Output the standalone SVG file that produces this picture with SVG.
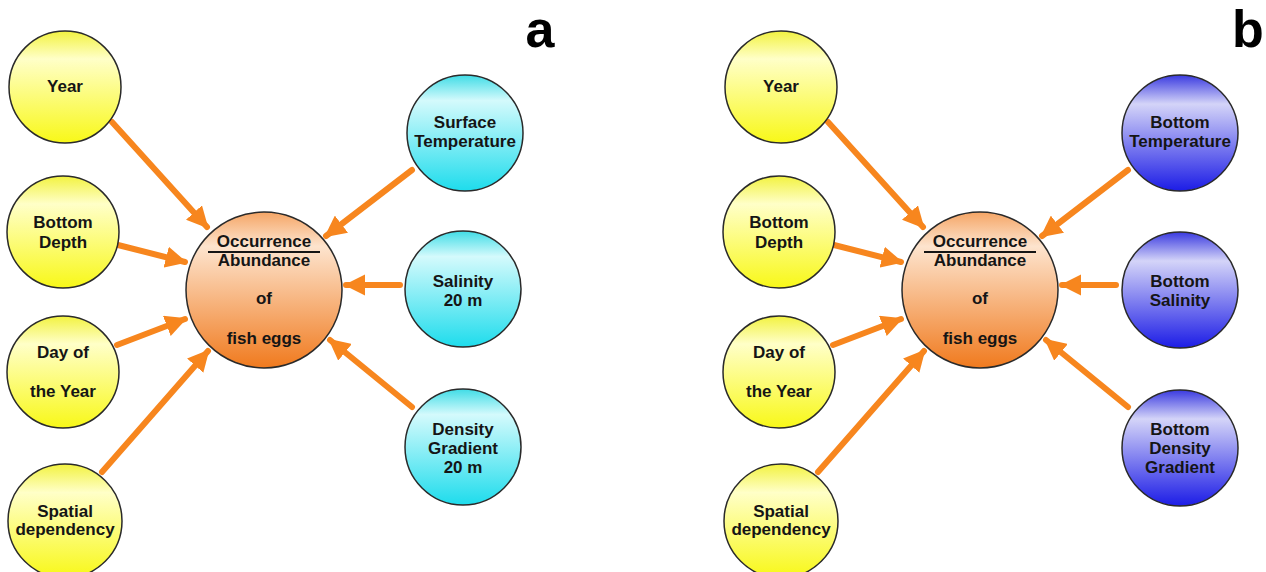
<svg xmlns="http://www.w3.org/2000/svg" width="1266" height="572" viewBox="0 0 1266 572">
<defs>
<linearGradient id="gy" x1="0" y1="0" x2="0" y2="1">
<stop offset="0" stop-color="#F2F240"/><stop offset="0.25" stop-color="#FFFFC8"/><stop offset="1" stop-color="#F8F818"/>
</linearGradient>
<linearGradient id="gc" x1="0" y1="0" x2="0" y2="1">
<stop offset="0" stop-color="#40DCE6"/><stop offset="0.22" stop-color="#D4FAFC"/><stop offset="1" stop-color="#1EDCEC"/>
</linearGradient>
<linearGradient id="gb" x1="0" y1="0" x2="0" y2="1">
<stop offset="0" stop-color="#3A3AE0"/><stop offset="0.25" stop-color="#D4D4F8"/><stop offset="1" stop-color="#1C1CE6"/>
</linearGradient>
<linearGradient id="go" x1="0" y1="0" x2="0" y2="1">
<stop offset="0" stop-color="#F5A565"/><stop offset="0.22" stop-color="#FDE4CE"/><stop offset="1" stop-color="#F07A1E"/>
</linearGradient>
<marker id="ah" viewBox="0 0 10 10" refX="9" refY="5" markerWidth="3.6" markerHeight="3.6" orient="auto" markerUnits="strokeWidth">
<path d="M0,0 L10,5 L0,10 z" fill="#F7861E"/>
</marker>
<style>
circle{stroke:#2a2a2a;stroke-width:1.5}
.y{fill:url(#gy)} .c{fill:url(#gc)} .b{fill:url(#gb)} .o{fill:url(#go)}
text{font-family:"Liberation Sans",Arial,sans-serif;font-weight:bold;font-size:17px;fill:#151515;text-anchor:middle}
.lab{font-size:52px;fill:#000}
.e line{stroke:#F7861E;stroke-width:6;stroke-linecap:round;marker-end:url(#ah)}
</style>
</defs>
<rect width="1266" height="572" fill="#fff"/>
<g class="e" id="edges">
<line x1="112" y1="122" x2="207" y2="227"/>
<line x1="118" y1="245" x2="185" y2="262"/>
<line x1="117" y1="345" x2="185" y2="319"/>
<line x1="102" y1="472" x2="208" y2="351"/>
<line x1="412" y1="170" x2="326" y2="236"/>
<line x1="400" y1="285" x2="346" y2="285"/>
<line x1="412" y1="407" x2="330" y2="340"/>
<line x1="828" y1="122" x2="923" y2="227"/>
<line x1="834" y1="245" x2="901" y2="262"/>
<line x1="833" y1="345" x2="901" y2="319"/>
<line x1="818" y1="472" x2="924" y2="351"/>
<line x1="1128" y1="170" x2="1042" y2="236"/>
<line x1="1116" y1="285" x2="1062" y2="285"/>
<line x1="1128" y1="407" x2="1046" y2="340"/>
</g>
<g id="a-year"><circle class="y" cx="65" cy="87" r="56"/><text x="65" y="92">Year</text></g>
<g id="a-depth"><circle class="y" cx="63" cy="232" r="56"/><text x="63" y="228">Bottom</text><text x="63" y="248">Depth</text></g>
<g id="a-day"><circle class="y" cx="63" cy="372" r="56"/><text x="63" y="358">Day of</text><text x="63" y="397">the Year</text></g>
<g id="a-spatial"><circle class="y" cx="65" cy="521" r="57"/><text x="65" y="517">Spatial</text><text x="65" y="535">dependency</text></g>
<g id="a-center"><circle class="o" cx="264" cy="290" r="78"/><text x="264" y="247">Occurrence</text><line x1="208" y1="252" x2="320" y2="252" stroke="#151515" stroke-width="2"/><text x="264" y="266">Abundance</text><text x="264" y="304">of</text><text x="264" y="344">fish eggs</text></g>
<g id="a-surface"><circle class="c" cx="465" cy="133" r="58"/><text x="465" y="128">Surface</text><text x="465" y="147">Temperature</text></g>
<g id="a-salinity"><circle class="c" cx="463" cy="289" r="58"/><text x="463" y="287">Salinity</text><text x="463" y="306">20 m</text></g>
<g id="a-density"><circle class="c" cx="463" cy="447" r="58"/><text x="463" y="435">Density</text><text x="463" y="454">Gradient</text><text x="463" y="473">20 m</text></g>
<text class="lab" x="540" y="47">a</text>
<g id="b-year"><circle class="y" cx="781" cy="87" r="56"/><text x="781" y="92">Year</text></g>
<g id="b-depth"><circle class="y" cx="779" cy="232" r="56"/><text x="779" y="228">Bottom</text><text x="779" y="248">Depth</text></g>
<g id="b-day"><circle class="y" cx="779" cy="372" r="56"/><text x="779" y="358">Day of</text><text x="779" y="397">the Year</text></g>
<g id="b-spatial"><circle class="y" cx="781" cy="521" r="57"/><text x="781" y="517">Spatial</text><text x="781" y="535">dependency</text></g>
<g id="b-center"><circle class="o" cx="980" cy="290" r="78"/><text x="980" y="247">Occurrence</text><line x1="924" y1="252" x2="1036" y2="252" stroke="#151515" stroke-width="2"/><text x="980" y="266">Abundance</text><text x="980" y="304">of</text><text x="980" y="344">fish eggs</text></g>
<g id="b-temp"><circle class="b" cx="1180" cy="133" r="58"/><text x="1180" y="128">Bottom</text><text x="1180" y="147">Temperature</text></g>
<g id="b-salinity"><circle class="b" cx="1180" cy="290" r="58"/><text x="1180" y="287">Bottom</text><text x="1180" y="306">Salinity</text></g>
<g id="b-density"><circle class="b" cx="1180" cy="448" r="58"/><text x="1180" y="435">Bottom</text><text x="1180" y="454">Density</text><text x="1180" y="473">Gradient</text></g>
<text class="lab" x="1248" y="47">b</text>
</svg>
